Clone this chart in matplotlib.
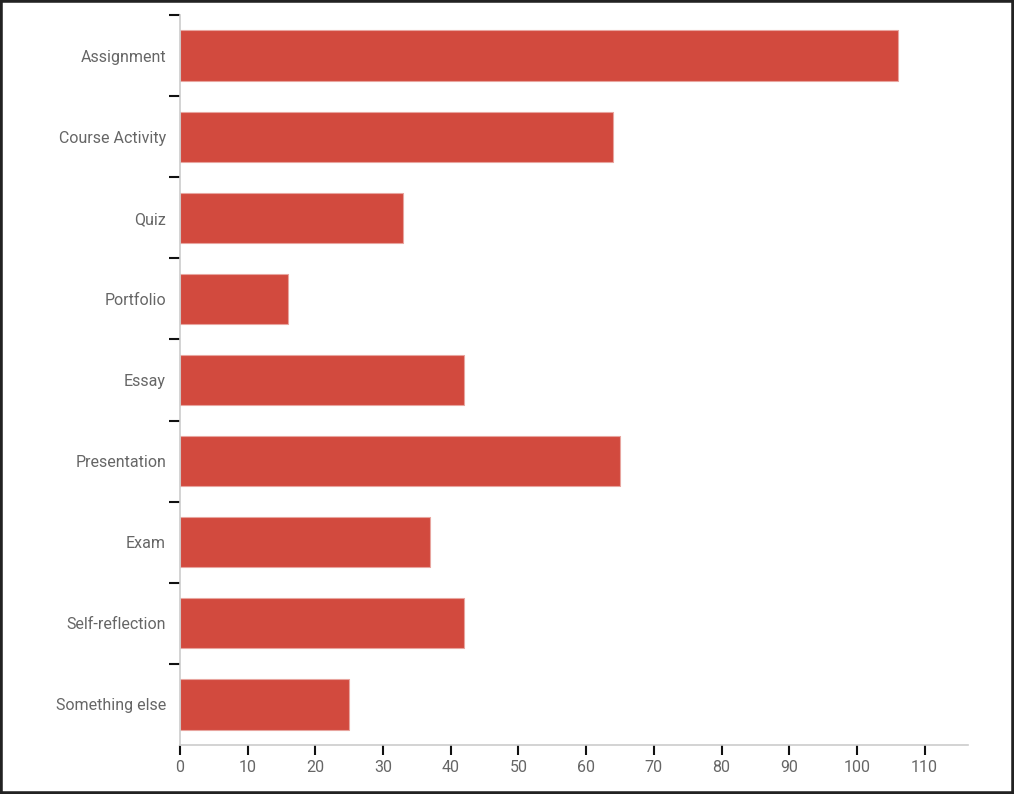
import matplotlib.pyplot as plt
from matplotlib.patches import Rectangle
import numpy as np

categories = ["Assignment", "Course Activity", "Quiz", "Portfolio", "Essay",
              "Presentation", "Exam", "Self-reflection", "Something else"]
counts = [106, 64, 33, 16, 42, 65, 37, 42, 25]
x_ticks = [0, 10, 20, 30, 40, 50, 60, 70, 80, 90, 100, 110]

plt.rcParams['font.family'] = ['Roboto', 'DejaVu Sans']

fig = plt.figure(figsize=(10.14, 7.94), dpi=100)
ax = fig.add_axes([180 / 1014, 1 - 745 / 794, (968 - 180) / 1014, (745 - 15) / 794])

y = np.arange(len(categories))
ax.barh(y, counts, height=0.62, color="#d24a3e", edgecolor="#e8a59f", linewidth=0.8)

ax.set_ylim(len(categories) - 0.5, -0.5)
ax.set_xlim(0, 116.4)

ax.set_yticks(y)
ax.set_yticklabels(categories)
ax.tick_params(axis="y", which="major", length=0, pad=10, labelsize=11.5, labelcolor="#666666")
ax.set_yticks(y - 0.5, minor=True)
ax.tick_params(axis="y", which="minor", length=8, width=1.5, color="#111111")

ax.set_xticks(x_ticks)
ax.tick_params(axis="x", length=7, width=1.5, color="#111111", labelsize=11.5,
               labelcolor="#666666", pad=4)

for side in ["top", "right"]:
    ax.spines[side].set_visible(False)
for side in ["left", "bottom"]:
    ax.spines[side].set_color("#cccccc")
    ax.spines[side].set_linewidth(1.2)

# dark frame round the picture
fig.patches.append(Rectangle((0, 0), 1, 1, transform=fig.transFigure, fill=False,
                             edgecolor="#222222", linewidth=4, zorder=10))

fig.savefig("out.png", dpi=100)
plt.close()
